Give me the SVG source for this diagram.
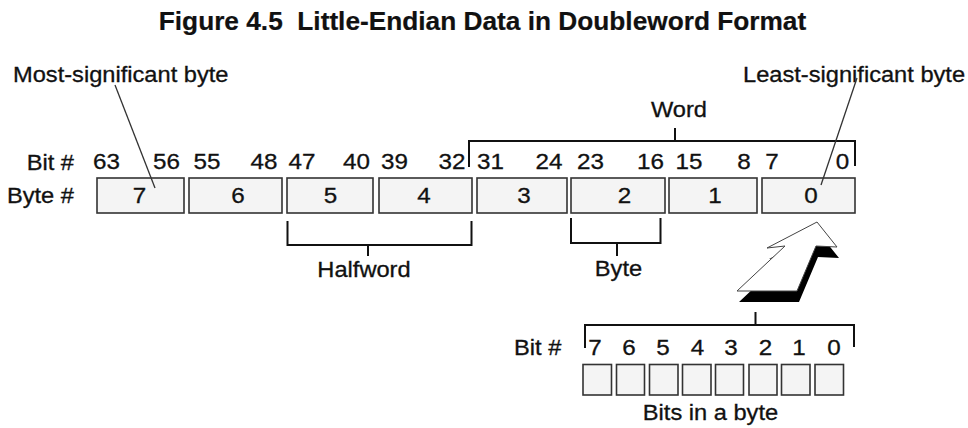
<svg xmlns="http://www.w3.org/2000/svg" width="968" height="428" viewBox="0 0 968 428">
<style>
  text { font-family: "Liberation Sans", Arial, sans-serif; fill: #111; stroke: #111; stroke-width: 0.3px; }
  .t { font-size: 21.5px; }
  .n { font-size: 22px; text-anchor: middle; }
  .c { text-anchor: middle; }
  .title { font-size: 25px; font-weight: bold; text-anchor: middle; stroke-width: 0.2px; }
  .box { fill: #f4f4f4; stroke: #333; stroke-width: 1.6; }
  .br { fill: none; stroke: #111; stroke-width: 2; }
  .lead { fill: none; stroke: #333; stroke-width: 1.3; }
</style>
<rect width="968" height="428" fill="#fff"/>

<g id="title"><text class="title" transform="scale(1.05 1)" x="459.5" y="30.5" xml:space="preserve">Figure 4.5  Little-Endian Data in Doubleword Format</text></g>

<g id="labels" transform="scale(1.1 1)">
  <text class="t" x="11.82" y="82">Most-significant byte</text>
  <text class="t" x="675.45" y="82">Least-significant byte</text>
  <text class="t c" x="617.27" y="117">Word</text>
  <text class="t" x="67.27" y="170" text-anchor="end">Bit #</text>
  <text class="t" x="67.27" y="203" text-anchor="end">Byte #</text>
  <text class="t c" x="330.9" y="277">Halfword</text>
  <text class="t c" x="562.27" y="276">Byte</text>
  <text class="t" x="467.27" y="355">Bit #</text>
  <text class="t c" x="645.9" y="420">Bits in a byte</text>
</g>

<g id="bitnumbers" transform="scale(1.1 1)">
  <text class="n" x="96.82" y="169">63</text>
  <text class="n" x="151.36" y="169">56</text>
  <text class="n" x="188.18" y="169">55</text>
  <text class="n" x="240" y="169">48</text>
  <text class="n" x="274.55" y="169">47</text>
  <text class="n" x="324.09" y="169">40</text>
  <text class="n" x="358.64" y="169">39</text>
  <text class="n" x="410.91" y="169">32</text>
  <text class="n" x="445.91" y="169">31</text>
  <text class="n" x="499.09" y="169">24</text>
  <text class="n" x="536.82" y="169">23</text>
  <text class="n" x="591.36" y="169">16</text>
  <text class="n" x="626.36" y="169">15</text>
  <text class="n" x="676.36" y="169">8</text>
  <text class="n" x="701.82" y="169">7</text>
  <text class="n" x="765.91" y="169">0</text>
</g>

<g id="byte7"><rect class="box" x="97" y="178" width="87" height="35"/><text class="n" transform="scale(1.1 1)" x="126.82" y="203">7</text></g>
<g id="byte6"><rect class="box" x="189" y="178" width="93" height="35"/><text class="n" transform="scale(1.1 1)" x="216.36" y="203">6</text></g>
<g id="byte5"><rect class="box" x="287" y="178" width="86" height="35"/><text class="n" transform="scale(1.1 1)" x="300.45" y="203">5</text></g>
<g id="byte4"><rect class="box" x="379" y="178" width="93" height="35"/><text class="n" transform="scale(1.1 1)" x="385.45" y="203">4</text></g>
<g id="byte3"><rect class="box" x="477" y="178" width="90" height="35"/><text class="n" transform="scale(1.1 1)" x="476.36" y="203">3</text></g>
<g id="byte2"><rect class="box" x="571" y="178" width="94" height="35"/><text class="n" transform="scale(1.1 1)" x="567.73" y="203">2</text></g>
<g id="byte1"><rect class="box" x="669" y="178" width="88" height="35"/><text class="n" transform="scale(1.1 1)" x="650" y="203">1</text></g>
<g id="byte0"><rect class="box" x="762" y="178" width="93" height="35"/><text class="n" transform="scale(1.1 1)" x="737.27" y="203">0</text></g>

<g id="bitdigits" transform="scale(1.1 1)">
  <text class="n" x="540.91" y="355">7</text>
  <text class="n" x="571.82" y="355">6</text>
  <text class="n" x="602.73" y="355">5</text>
  <text class="n" x="634.09" y="355">4</text>
  <text class="n" x="664.55" y="355">3</text>
  <text class="n" x="695.91" y="355">2</text>
  <text class="n" x="726.36" y="355">1</text>
  <text class="n" x="758.18" y="355">0</text>
</g>

<g id="bit7"><rect class="box" x="583" y="364.5" width="28.5" height="30.5"/></g>
<g id="bit6"><rect class="box" x="616.5" y="364.5" width="28" height="30.5"/></g>
<g id="bit5"><rect class="box" x="649.5" y="364.5" width="28.5" height="30.5"/></g>
<g id="bit4"><rect class="box" x="682.5" y="364.5" width="28.5" height="30.5"/></g>
<g id="bit3"><rect class="box" x="715.5" y="364.5" width="28" height="30.5"/></g>
<g id="bit2"><rect class="box" x="749" y="364.5" width="28" height="30.5"/></g>
<g id="bit1"><rect class="box" x="781.5" y="364.5" width="28.5" height="30.5"/></g>
<g id="bit0"><rect class="box" x="815" y="364.5" width="28.5" height="30.5"/></g>

<g id="connectors">
  <path class="br" d="M469,167 V141 H855 V166 M675,128 V141"/>
  <path class="br" d="M287.5,221 V245 H471.5 V221 M368,245 V256"/>
  <path class="br" d="M571,218 V243 H660.5 V218 M617,243 V256"/>
  <path class="br" d="M585,348 V325 H854 V347 M755.5,312 V325"/>
  <line class="lead" x1="115" y1="85" x2="155" y2="188"/>
  <line class="lead" x1="857" y1="78" x2="821" y2="185"/>
  <polygon transform="translate(2,11)" fill="#000" points="817,222 837,247 816,246 797,291 737,291 785,246 767,248"/>
  <polygon fill="#fff" stroke="#444" stroke-width="1" stroke-linejoin="miter" points="817,222 837,247 816,246 797,291 737,291 785,246 767,248"/>
</g>
</svg>
